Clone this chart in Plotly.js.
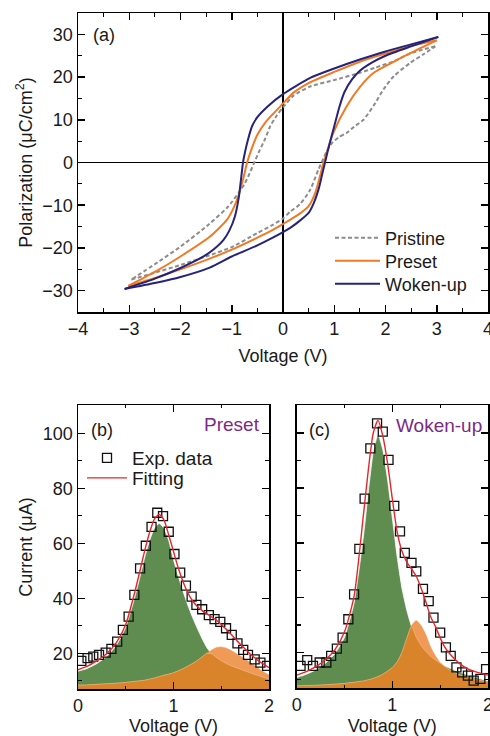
<!DOCTYPE html>
<html>
<head>
<meta charset="utf-8">
<script src="https://cdn.plot.ly/plotly-3.0.1.min.js"></script>
<style>html,body{margin:0;padding:0;background:#fff;}#chart{width:490px;height:736px;}</style>
</head>
<body>
<div id="chart"></div>
<script>
// ---------- Panel (a): P-V hysteresis loops ----------
const seriesNames = ['Pristine', 'Preset', 'Woken-up'];

// Pristine: upper branch (V decreasing) and lower branch (V increasing)
const pristineUpV = [2.97, 2.5, 2.16, 1.8, 1.5, 1.0, 0.53, 0.2, 0.0, -0.12, -0.25, -0.35, -0.45, -0.55, -0.65, -0.75, -0.87, -1.0, -1.1, -1.45, -2.0, -2.5, -2.96];
const pristineUpP = [27.2, 25.6, 23.7, 22.2, 21.0, 19.3, 17.8, 15.6, 12.9, 11.0, 8.5, 5.5, 3.0, 0.3, -2.5, -5.0, -7.2, -9.3, -10.7, -14.5, -19.7, -23.8, -27.4];
const pristineDnV = [-2.96, -2.5, -2.0, -1.5, -1.0, -0.5, -0.2, 0.0, 0.14, 0.33, 0.53, 0.69, 0.85, 0.95, 1.1, 1.24, 1.4, 1.57, 1.8, 1.96, 2.16, 2.48, 2.75, 2.97];
const pristineDnP = [-27.4, -25.8, -24.0, -22.0, -19.8, -16.5, -14.6, -13.1, -11.5, -9.8, -6.4, -1.7, 2.5, 4.5, 6.0, 6.9, 8.5, 10.0, 13.9, 17.1, 20.2, 23.3, 25.4, 27.2];

// Preset
const presetUpV = [3.0, 2.48, 2.0, 1.83, 1.5, 1.0, 0.5, 0.2, 0.0, -0.2, -0.35, -0.5, -0.6, -0.7, -0.78, -0.87, -0.97, -1.1, -1.43, -2.0, -2.5, -3.02];
const presetUpP = [28.6, 27.2, 25.5, 24.9, 23.6, 21.2, 18.6, 16.3, 13.8, 11.3, 9.3, 6.5, 3.6, 0.0, -4.0, -7.8, -10.8, -13.5, -17.4, -22.0, -25.6, -28.9];
const presetDnV = [-3.02, -2.5, -2.0, -1.43, -1.0, -0.5, -0.2, 0.0, 0.3, 0.5, 0.63, 0.72, 0.78, 0.83, 0.98, 1.24, 1.51, 1.77, 2.15, 2.5, 3.0];
const presetDnP = [-28.9, -27.0, -25.0, -22.5, -20.4, -17.6, -15.8, -14.4, -12.2, -10.2, -7.1, -3.3, -0.5, 1.4, 6.9, 13.1, 17.8, 21.0, 23.5, 25.7, 28.6];

// Woken-up
const wokenUpV = [3.03, 2.48, 2.0, 1.5, 1.0, 0.53, 0.0, -0.3, -0.5, -0.6, -0.68, -0.74, -0.78, -0.82, -0.86, -0.94, -1.05, -1.16, -1.35, -1.55, -2.0, -2.5, -3.09];
const wokenUpP = [29.4, 27.6, 26.0, 24.1, 22.0, 19.8, 16.0, 13.1, 10.6, 8.6, 5.5, 2.5, 0.0, -4.0, -8.0, -12.7, -16.0, -18.1, -20.3, -22.0, -24.7, -27.2, -29.6];
const wokenDnV = [-3.09, -2.5, -2.0, -1.43, -1.0, -0.5, -0.2, 0.0, 0.14, 0.3, 0.5, 0.6, 0.7, 0.76, 0.82, 0.9, 1.0, 1.1, 1.2, 1.35, 1.5, 1.75, 2.0, 2.5, 3.03];
const wokenDnP = [-29.6, -28.2, -26.8, -24.6, -22.0, -19.4, -17.6, -16.3, -15.3, -13.9, -11.8, -9.5, -6.0, -3.0, 0.0, 4.0, 8.5, 13.0, 16.5, 19.5, 21.5, 23.5, 25.0, 27.2, 29.4];

// ---------- Panels (b), (c): I-V switching current ----------
const compV = [0, 0.1, 0.2, 0.3, 0.4, 0.5, 0.6, 0.7, 0.75, 0.8, 0.85, 0.9, 0.95, 1.0, 1.05, 1.1, 1.15, 1.2, 1.25, 1.3, 1.35, 1.4, 1.45, 1.5, 1.55, 1.6, 1.7, 1.8, 1.9, 2.0];

// (b) Preset
const expB_V = [0.035, 0.1, 0.16, 0.22, 0.29, 0.35, 0.41, 0.47, 0.53, 0.59, 0.65, 0.71, 0.77, 0.83, 0.89, 0.95, 1.01, 1.07, 1.13, 1.19, 1.24, 1.30, 1.37, 1.43, 1.49, 1.55, 1.61, 1.67, 1.73, 1.78, 1.85, 1.91, 1.98];
const expB_I = [17.2, 18.2, 18.8, 19.4, 20.2, 21.6, 24.2, 28.5, 33.3, 41.2, 50.9, 59.1, 66.0, 71.1, 69.9, 64.2, 56.1, 49.3, 44.6, 40.6, 37.6, 36.0, 33.9, 32.4, 31.4, 29.1, 26.7, 23.6, 21.2, 19.4, 17.8, 16.6, 15.4];
const fitB = [14, 15.3, 17.3, 19.8, 23.8, 30.5, 43, 57.5, 64, 68.8, 70.5, 68.5, 63, 57, 51, 46, 42, 39, 37, 35.5, 34.3, 33.2, 32, 30.5, 28.8, 27, 23.3, 19.8, 17, 14.8];
const peak1B = [13.5, 14.5, 16.3, 18.8, 22.8, 29.5, 41, 55, 61, 65.5, 67.2, 65.5, 61, 54, 48, 42.5, 37.5, 33, 29, 25.3, 22, 19.8, 18.5, 17.3, 16.3, 15.5, 14.2, 12.9, 11.7, 10.6];
const peak2B = [8.4, 8.5, 8.7, 8.9, 9.1, 9.4, 9.8, 10.2, 10.6, 11, 11.5, 12, 12.4, 12.9, 13.6, 14.4, 15.3, 16.3, 17.4, 18.7, 20, 21.2, 22.1, 22.3, 21.9, 21.1, 19.0, 16.7, 14.2, 12.1];

// (c) Woken-up
const expC_V = [0.04, 0.11, 0.17, 0.24, 0.31, 0.36, 0.42, 0.48, 0.54, 0.60, 0.655, 0.71, 0.77, 0.84, 0.90, 0.96, 1.02, 1.08, 1.13, 1.20, 1.25, 1.32, 1.38, 1.43, 1.50, 1.56, 1.61, 1.67, 1.73, 1.79, 1.85, 1.92, 1.98];
const expC_I = [15.1, 17.2, 15.1, 16.3, 16.3, 18.7, 21.4, 25.4, 32.1, 41.2, 57.8, 76.1, 94.5, 103.6, 100.6, 90.3, 73.5, 64.2, 56.3, 52.7, 49.6, 43.2, 38.7, 32.7, 27.2, 21.8, 18.7, 14.5, 12.7, 11.5, 9.7, 10.3, 13.9];
const fitC = [11.7, 13, 14.8, 17.3, 21, 27.5, 40.5, 71, 87, 100, 104.7, 99, 89, 76, 64, 57, 53, 50.5, 47.8, 43.5, 38.5, 33, 29.5, 25.3, 21.8, 19.5, 16, 13.8, 12.6, 11.7];
const peak1C = [10.8, 12, 13.6, 16, 19.5, 25.5, 38, 63, 79, 93, 99.5, 94, 83, 69, 55, 43.5, 35.5, 29.5, 25.5, 22.5, 20.3, 18.6, 17.2, 16, 15, 14.2, 12.8, 11.6, 10.5, 9.6];
const peak2C = [7.8, 7.9, 8.0, 8.2, 8.4, 8.7, 9.1, 9.6, 10, 10.5, 11.2, 12, 13.2, 14.5, 16.5, 20, 25, 29.8, 31.6, 29.8, 26.5, 22, 18.8, 16.3, 14.7, 13.5, 11.9, 10.8, 9.9, 9.2];

const panelLabels = ['(a)', '(b)', '(c)'];
const stateLabels = ['Preset', 'Woken-up'];

// ---------- styles ----------
const FONT = 'Liberation Sans, Arial, Helvetica, sans-serif';
const INK = '#1a1a1a';
const C_PRI = '#8c8c8c', C_PRE = '#f07a24', C_WOK = '#25237a';
const GREEN = '#5f8d50', OR_DARK = '#d9832b', OR_LIGHT = '#f09a58', RED = '#e8262a', PURPLE = '#7d2a87';

function loopTraces(upV, upP, dnV, dnP, name, color, dash, legendId) {
  const line = {color: color, width: 2, dash: dash, shape: 'spline', smoothing: 0.6};
  return [
    {x: upV, y: upP, mode: 'lines', line: line, name: name, legend: legendId, showlegend: true, legendgroup: name, hoverinfo: 'skip'},
    {x: dnV, y: dnP, mode: 'lines', line: line, name: name, showlegend: false, legendgroup: name, hoverinfo: 'skip'}
  ];
}

function currentTraces(xa, ya, p1, p2, fit, ev, ei, withLegend) {
  const low = compV.map((v, i) => Math.min(p1[i], p2[i]));
  const base = {x: compV, xaxis: xa, yaxis: ya, mode: 'lines', showlegend: false, hoverinfo: 'skip'};
  return [
    Object.assign({}, base, {y: p1, fill: 'tozeroy', fillcolor: GREEN, line: {color: 'rgba(255,255,255,0.75)', width: 1, shape: 'spline', smoothing: 0.5}}),
    Object.assign({}, base, {y: p2, fill: 'tozeroy', fillcolor: OR_LIGHT, line: {color: OR_LIGHT, width: 0.5, shape: 'spline', smoothing: 0.5}}),
    Object.assign({}, base, {y: low, fill: 'tozeroy', fillcolor: OR_DARK, line: {color: 'rgba(255,225,190,0.6)', width: 0.6, shape: 'spline', smoothing: 0.5}}),
    {x: ev, y: ei, xaxis: xa, yaxis: ya, mode: 'markers', name: 'Exp. data', legend: 'legend2', showlegend: withLegend,
     marker: {symbol: 'square-open', size: 9, color: '#111', line: {width: 1.3, color: '#111'}}, hoverinfo: 'skip'},
    {x: compV, y: fit, xaxis: xa, yaxis: ya, mode: 'lines', name: 'Fitting', legend: 'legend3', showlegend: withLegend,
     line: {color: RED, width: 1.4, shape: 'spline', smoothing: 0.6}, hoverinfo: 'skip'}
  ];
}

const traces = []
  .concat(loopTraces(pristineUpV, pristineUpP, pristineDnV, pristineDnP, seriesNames[0], C_PRI, '4px,2.5px', 'legend'))
  .concat(loopTraces(presetUpV, presetUpP, presetDnV, presetDnP, seriesNames[1], C_PRE, 'solid', 'legend4'))
  .concat(loopTraces(wokenUpV, wokenUpP, wokenDnV, wokenDnP, seriesNames[2], C_WOK, 'solid', 'legend5'))
  .concat(currentTraces('x2', 'y2', peak1B, peak2B, fitB, expB_V, expB_I, true))
  .concat(currentTraces('x3', 'y3', peak1C, peak2C, fitC, expC_V, expC_I, false));

const tickFont = {family: FONT, size: 18, color: INK};
function axis(extra) {
  return Object.assign({
    showline: true, linecolor: '#000', linewidth: 1.5, mirror: 'ticks',
    ticks: 'inside', ticklen: 7, tickwidth: 1.5, tickcolor: '#000',
    showgrid: false, zeroline: false, tickfont: tickFont, automargin: false,
    ticklabeloverflow: 'allow',
    minor: {ticks: 'inside', ticklen: 4, tickwidth: 1.2, tickcolor: '#000'}
  }, extra);
}
const titleFont = {family: FONT, size: 18, color: INK};
const W = 490, H = 736;
const px = v => v / W, py = v => 1 - v / H;

function legendAt(x, y, size, iw) {
  return {x: px(x), y: py(y), xanchor: 'left', yanchor: 'middle', bgcolor: 'rgba(0,0,0,0)',
          font: {family: FONT, size: size, color: INK}, itemwidth: iw, borderwidth: 0};
}

const layout = {
  width: W, height: H,
  margin: {l: 0, r: 0, t: 0, b: 0},
  paper_bgcolor: '#fff', plot_bgcolor: '#fff',
  font: {family: FONT, size: 18, color: INK},
  xaxis: axis({domain: [px(78), px(488)], anchor: 'y', range: [-4, 4], tick0: 0, dtick: 1,
    minor: {ticks: 'inside', ticklen: 4, tickwidth: 1.2, tickcolor: '#000', dtick: 0.5},
    zeroline: true, zerolinecolor: '#000', zerolinewidth: 1.6,
    title: {text: 'Voltage (V)', font: titleFont, standoff: 11}}),
  yaxis: axis({domain: [py(312), py(13)], anchor: 'x', range: [-35, 35], tick0: 0, dtick: 10,
    minor: {ticks: 'inside', ticklen: 4, tickwidth: 1.2, tickcolor: '#000', dtick: 5},
    zeroline: true, zerolinecolor: '#000', zerolinewidth: 1.6,
    title: {text: 'Polarization (μC/cm<sup>2</sup>)', font: titleFont}}),
  xaxis2: axis({domain: [px(78), px(269)], anchor: 'y2', range: [0, 2], tick0: 0, dtick: 1,
    minor: {ticks: 'inside', ticklen: 3, tickwidth: 1, tickcolor: '#000', dtick: 0.5},
    title: {text: 'Voltage (V)', font: titleFont}}),
  yaxis2: axis({domain: [py(689), py(405)], anchor: 'x2', range: [7, 110.3], tick0: 0, dtick: 20,
    minor: {ticks: 'inside', ticklen: 4, tickwidth: 1.2, tickcolor: '#000', dtick: 10},
    title: {text: 'Current (μA)', font: titleFont}}),
  xaxis3: axis({domain: [px(296.7), px(488)], anchor: 'y3', range: [0, 2], tick0: 0, dtick: 1,
    minor: {ticks: 'inside', ticklen: 3, tickwidth: 1, tickcolor: '#000', dtick: 0.5},
    title: {text: 'Voltage (V)', font: titleFont}}),
  yaxis3: axis({domain: [py(688), py(405)], anchor: 'x3', range: [7, 110.3], tick0: 0, dtick: 20,
    minor: {ticks: 'inside', ticklen: 4, tickwidth: 1.2, tickcolor: '#000', dtick: 10},
    showticklabels: false}),
  legend: legendAt(330, 238, 18, 45),
  legend4: legendAt(330, 261, 18, 45),
  legend5: legendAt(330, 284, 18, 45),
  legend2: legendAt(82, 458, 19, 40),
  legend3: legendAt(82, 478, 19, 40),
  showlegend: true,
  annotations: [
    {text: panelLabels[0], xref: 'paper', yref: 'paper', x: px(91), y: py(35), xanchor: 'left', yanchor: 'middle', showarrow: false, font: {family: FONT, size: 18, color: INK}},
    {text: panelLabels[1], xref: 'paper', yref: 'paper', x: px(89), y: py(430), xanchor: 'left', yanchor: 'middle', showarrow: false, font: {family: FONT, size: 18, color: INK}},
    {text: panelLabels[2], xref: 'paper', yref: 'paper', x: px(307), y: py(430), xanchor: 'left', yanchor: 'middle', showarrow: false, font: {family: FONT, size: 18, color: INK}},
    {text: stateLabels[0], xref: 'paper', yref: 'paper', x: px(262), y: py(424), xanchor: 'right', yanchor: 'middle', showarrow: false, font: {family: FONT, size: 19, color: PURPLE}},
    {text: stateLabels[1], xref: 'paper', yref: 'paper', x: px(484), y: py(425), xanchor: 'right', yanchor: 'middle', showarrow: false, font: {family: FONT, size: 19, color: PURPLE}}
  ]
};

Plotly.newPlot('chart', traces, layout, {displayModeBar: false, staticPlot: true});
</script>
</body>
</html>
